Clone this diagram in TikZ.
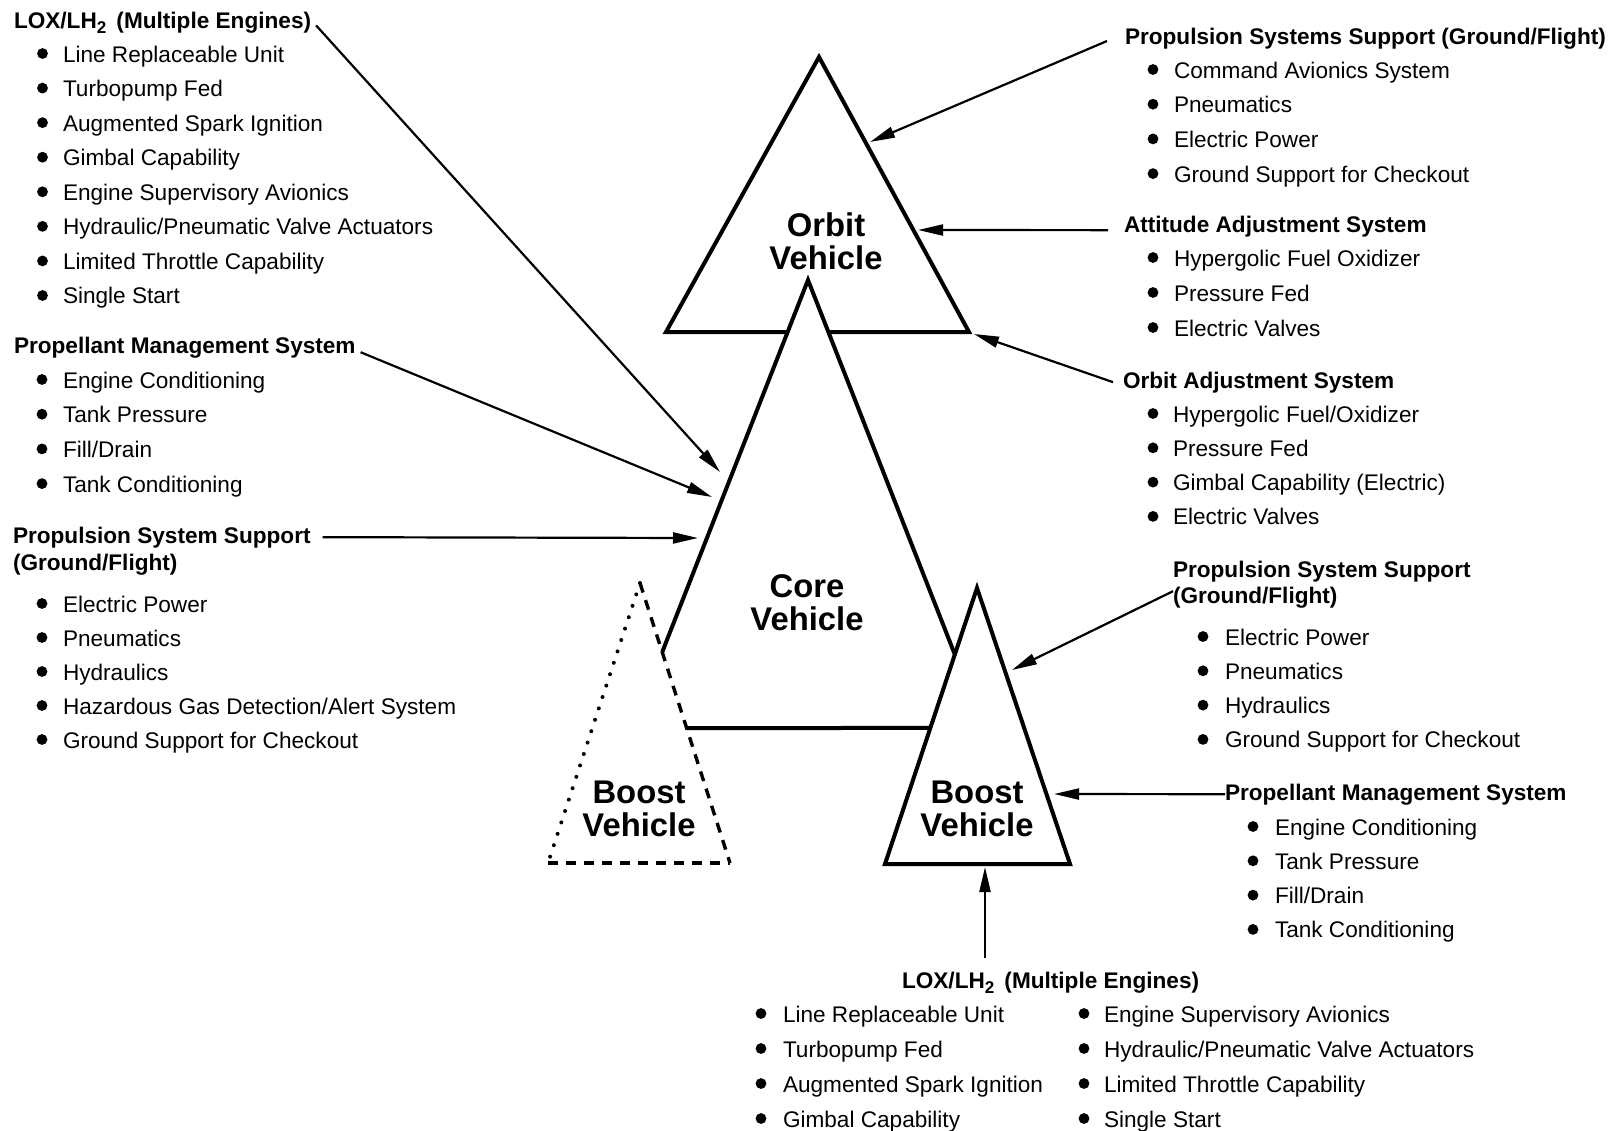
\documentclass[tikz,border=0pt]{standalone}
\usepackage{fontspec}
\setmainfont{Liberation Sans}
\usetikzlibrary{arrows.meta}

% LOX/LH2 heading with a lowered subscript
\newcommand\loxhead{LOX/LH\raisebox{-2.6pt}{\fontsize{8.5}{8.5}\selectfont 2}\hspace{0.45em}(Multiple Engines)}

% bulleted list: name prefix, bullet x, text x, first baseline, line step, items
\newcommand\sysitems[6]{%
  \foreach \itemtext [count=\i from 0] in {#6} {
    \node[itm] (#1\i) at (#3,{#4+\i*#5}) {\itemtext};
    \fill (#2,{#4+\i*#5-8.5}) circle[radius=2.7pt];
  }}

\begin{document}
\begin{tikzpicture}[x=0.5pt,y=-0.5pt,
  hdr/.style={font=\fontsize{11.3}{13}\selectfont\bfseries, anchor=base west, inner sep=0pt, outer sep=0pt},
  itm/.style={font=\fontsize{11.3}{13}\selectfont, anchor=base west, inner sep=0pt, outer sep=0pt},
  veh/.style={font=\fontsize{16.4}{16.5}\selectfont\bfseries, align=center, inner sep=0pt},
  edge/.style={line width=2pt, line join=miter},
  arr/.style={line width=1.1pt, -{Triangle[length=12.5pt,width=5.5pt]}},
  dotside/.style={line width=2pt, line cap=round, dash pattern=on 0pt off 6pt},
  dashside/.style={line width=1.7pt, dash pattern=on 5pt off 4pt}]

\fill[white] (0,0) rectangle (1619,1131);
\useasboundingbox (0,0) rectangle (1619,1131);

% ---- vehicle outlines ----
\coordinate (oA) at (819,57);   \coordinate (oL) at (666,332);   \coordinate (oR) at (969,332);
\coordinate (cA) at (808,280);  \coordinate (cFL) at (632.4,728); \coordinate (cFR) at (983.6,728);
\coordinate (dA) at (640,583);  \coordinate (dL) at (548,863);   \coordinate (dR) at (730,863);
\coordinate (bA) at (977,588);  \coordinate (bL) at (885,864);   \coordinate (bR) at (1070,864);

\coordinate (cLe) at (intersection of cA--cFL and dA--dR);
\coordinate (cRe) at (intersection of cA--cFR and bA--bL);
\coordinate (cBL) at (intersection of cFL--cFR and dA--dR);
\coordinate (cBR) at (intersection of cFL--cFR and bA--bL);

% orbit vehicle
\draw[edge] (oA) -- (oR) -- (oL) -- cycle;
% core vehicle, in front of the orbit vehicle
\fill[white] (cA) -- (cRe) -- (cBR) -- (cBL) -- (cLe) -- cycle;
\draw[edge] (cLe) -- (cA) -- (cRe);
\draw[edge] (cBL) -- (cBR);
% optional boost vehicle (broken outline)
\draw[dotside] (dA) -- (dL);
\draw[dashside] (dA) -- (dR);
\draw[dashside] (dL) -- (dR);
% boost vehicle
\draw[edge] (bA) -- (bR) -- (bL) -- cycle;

\node[veh] (orbit)  at (826,241.5) {Orbit\\Vehicle};
\node[veh] (core)   at (807,602.5) {Core\\Vehicle};
\node[veh] (boostL) at (639,809)   {Boost\\Vehicle};
\node[veh] (boostR) at (977,809)   {Boost\\Vehicle};

% ---- left column ----
\node[hdr] (lhA) at (14,28) {\loxhead};
\sysitems{lA}{42.5}{63}{62}{34.57}{Line Replaceable Unit, Turbopump Fed, Augmented Spark Ignition, Gimbal Capability, Engine Supervisory Avionics, Hydraulic/Pneumatic Valve Actuators, Limited Throttle Capability, Single Start}

\node[hdr] (lhB) at (14,353) {Propellant Management System};
\sysitems{lB}{42}{63}{388}{34.7}{Engine Conditioning, Tank Pressure, Fill/Drain, Tank Conditioning}

\node[hdr] (lhC)  at (13,543) {Propulsion System Support};
\node[hdr] (lhC2) at (13,570) {(Ground/Flight)};
\sysitems{lC}{42}{63}{612}{34}{Electric Power, Pneumatics, Hydraulics, Hazardous Gas Detection/Alert System, Ground Support for Checkout}

% ---- right column ----
\node[hdr] (rhA) at (1125,44) {Propulsion Systems Support (Ground/Flight)};
\sysitems{rA}{1153}{1174}{78}{34.7}{Command Avionics System, Pneumatics, Electric Power, Ground Support for Checkout}

\node[hdr] (rhB) at (1124,232) {Attitude Adjustment System};
\sysitems{rB}{1153}{1174}{266}{35}{Hypergolic Fuel Oxidizer, Pressure Fed, Electric Valves}

\node[hdr] (rhC) at (1123,388) {Orbit Adjustment System};
\sysitems{rC}{1153}{1173}{422}{34.3}{Hypergolic Fuel/Oxidizer, Pressure Fed, {Gimbal Capability (Electric)}, Electric Valves}

\node[hdr] (bhB1) at (1173,577) {Propulsion System Support};
\node[hdr] (bhB)  at (1173,603) {(Ground/Flight)};
\sysitems{bB}{1203}{1225}{645}{34.3}{Electric Power, Pneumatics, Hydraulics, Ground Support for Checkout}

\node[hdr] (bhC) at (1225,800) {Propellant Management System};
\sysitems{bC}{1253}{1275}{835}{34.3}{Engine Conditioning, Tank Pressure, Fill/Drain, Tank Conditioning}

% ---- bottom block ----
\node[hdr] (bhD) at (902,988) {\loxhead};
\sysitems{eL}{761}{783}{1022}{35}{Line Replaceable Unit, Turbopump Fed, Augmented Spark Ignition, Gimbal Capability}
\sysitems{eR}{1084}{1104}{1022}{35}{Engine Supervisory Avionics, Hydraulic/Pneumatic Valve Actuators, Limited Throttle Capability, Single Start}

% ---- arrows ----
\coordinate (tA) at (720,472);
\coordinate (tB) at (712,497);
\coordinate (tC) at (698,538);
\coordinate (tD) at (870,142);
\coordinate (tE) at (918,230);
\coordinate (tF) at (974,334);
\coordinate (tG) at (1012,670);
\coordinate (tH) at (1054,794);
\coordinate (tI) at (985,867);
\coordinate (lxs) at (985,958);

\draw[arr] ([xshift=2.5pt,yshift=-1.5pt]lhA.east) -- (tA);
\draw[arr] ([xshift=2.5pt,yshift=-2.5pt]lhB.east) -- (tB);
\draw[arr] ([xshift=6pt]lhC.east) -- (tC);
\draw[arr] ([xshift=-9pt,yshift=1.5pt]rhA.base west) -- (tD);
\draw[arr] ([xshift=-8pt,yshift=-2pt]rhB.west) -- (tE);
\draw[arr] ([xshift=-5pt]rhC.west) -- (tF);
\draw[arr] ([yshift=3pt]bhB.west) -- (tG);
\draw[arr] (bhC.west) -- (tH);
\draw[arr] (lxs) -- (tI);
\end{tikzpicture}
\end{document}
